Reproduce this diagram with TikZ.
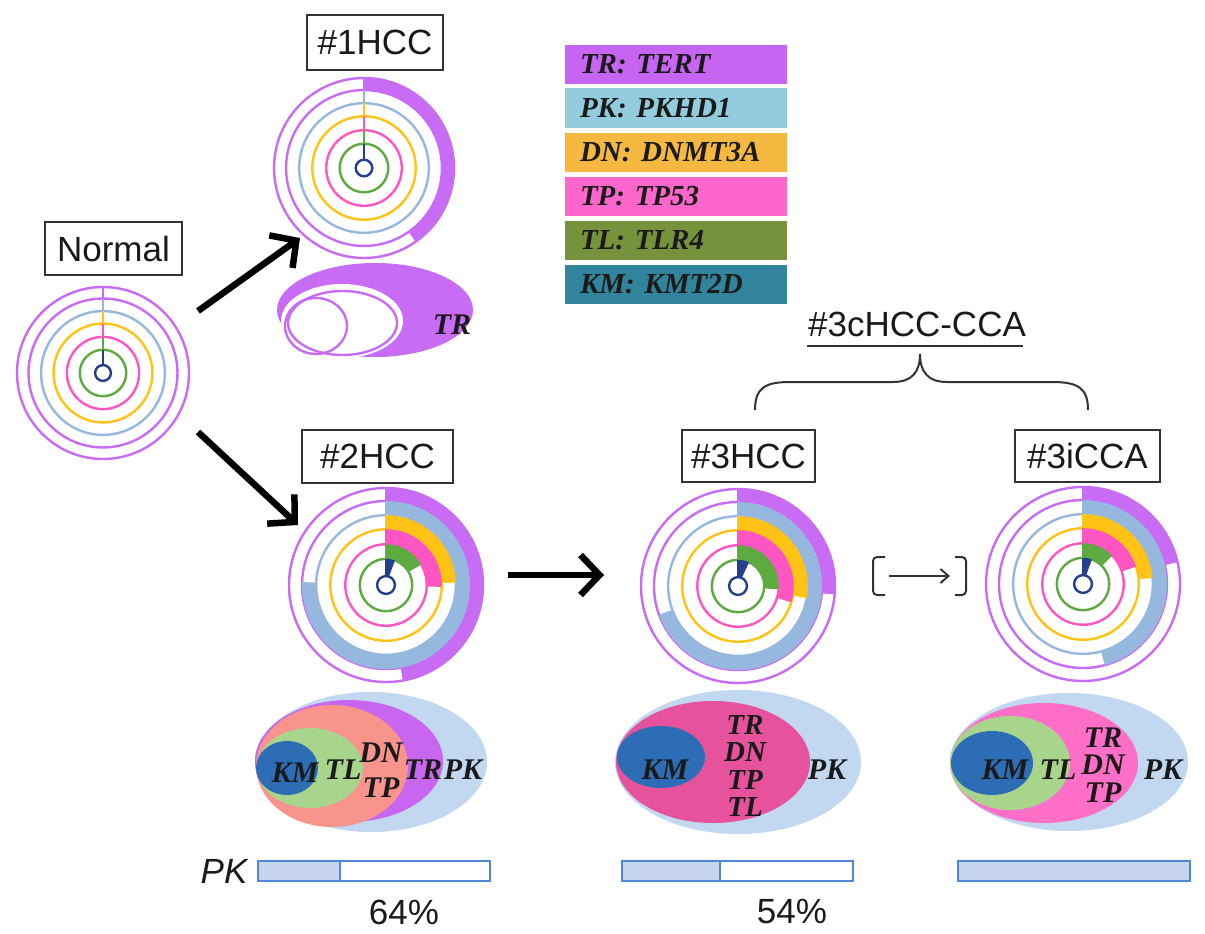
\documentclass[tikz,border=0pt]{standalone}
\usepackage{fontspec}
\setmainfont{Liberation Serif}
\newfontfamily\sansf{Liberation Sans}
\usetikzlibrary{arrows.meta}

\definecolor{trc}{HTML}{C86BF5}
\definecolor{pkc}{HTML}{97B8DE}
\definecolor{dnc}{HTML}{FFC215}
\definecolor{tpc}{HTML}{FF55C3}
\definecolor{tlc}{HTML}{5DAA40}
\definecolor{kmc}{HTML}{233F8E}
\definecolor{lgTR}{HTML}{C565F2}
\definecolor{lgPK}{HTML}{93CDDD}
\definecolor{lgDN}{HTML}{F5B841}
\definecolor{lgTP}{HTML}{FF66CC}
\definecolor{lgTL}{HTML}{76923C}
\definecolor{lgKM}{HTML}{31849B}
\definecolor{vPK}{HTML}{C2D7F0}
\definecolor{vTR}{HTML}{C866F0}
\definecolor{vDN}{HTML}{F8948C}
\definecolor{vTL}{HTML}{A9D48C}
\definecolor{vKM}{HTML}{2D6DB5}
\definecolor{vTPa}{HTML}{E6529C}
\definecolor{vTPb}{HTML}{FF6FC8}
\definecolor{barf}{HTML}{C6D4EE}
\definecolor{barb}{HTML}{4F88D6}
\definecolor{ink}{HTML}{1A1A1A}
\definecolor{boxc}{HTML}{333333}

\newcommand\BandFill[4]{%
  \ifdim #3pt>0pt
    \fill[#4] (90:#1pt) arc[start angle=90, end angle={90-#3}, radius=#1pt]
      -- ({90-#3}:#2pt) arc[start angle={90-#3}, end angle=90, radius=#2pt] -- cycle;
  \fi}

\newcommand\Donut[9]{%
  \begin{scope}[shift={(#1,#2)}]
    \pgfmathsetmacro\rA{#3}
    \pgfmathsetmacro\rB{#3*0.866}
    \pgfmathsetmacro\rC{#3*0.72}
    \pgfmathsetmacro\rD{#3*0.575}
    \pgfmathsetmacro\rE{#3*0.42}
    \pgfmathsetmacro\rF{#3*0.27}
    \pgfmathsetmacro\rG{#3*0.092}
    \draw[ring,trc] (0,0) circle[radius=\rA pt];
    \draw[ring,trc] (0,0) circle[radius=\rB pt];
    \draw[ring,pkc] (0,0) circle[radius=\rC pt];
    \draw[ring,dnc] (0,0) circle[radius=\rD pt];
    \draw[ring,tpc] (0,0) circle[radius=\rE pt];
    \draw[ring,tlc] (0,0) circle[radius=\rF pt];
    \draw[ring,kmc] (0,0) circle[radius=\rG pt];
    \draw[ring,trc] (90:\rA pt) -- (90:\rB pt);
    \draw[ring,pkc] (90:\rB pt) -- (90:\rC pt);
    \draw[ring,dnc] (90:\rC pt) -- (90:\rD pt);
    \draw[ring,tpc] (90:\rD pt) -- (90:\rE pt);
    \draw[ring,tlc] (90:\rE pt) -- (90:\rF pt);
    \draw[ring,kmc] (90:\rF pt) -- (90:\rG pt);
    \BandFill{\rA}{\rB}{#4}{trc}
    \BandFill{\rB}{\rC}{#5}{pkc}
    \BandFill{\rC}{\rD}{#6}{dnc}
    \BandFill{\rD}{\rE}{#7}{tpc}
    \BandFill{\rE}{\rF}{#8}{tlc}
    \BandFill{\rF}{\rG}{#9}{kmc}
  \end{scope}}

\tikzset{
  ring/.style={line width=2.4pt},
  box/.style={draw=boxc, line width=2pt, inner sep=0pt, text=ink, font=\sansf\fontsize{35}{35}\selectfont},
  leg/.style={minimum height=39pt, text width=192pt, align=left, inner xsep=15pt, inner ysep=0pt, text=ink, font=\fontsize{29}{29}\selectfont\bfseries\itshape},
  gl/.style={text=ink, inner sep=0pt, font=\fontsize{30}{27}\selectfont\bfseries\itshape},
  sl/.style={text=ink, inner sep=0pt, font=\sansf\fontsize{35}{35}\selectfont},
  bigarrow/.style={line width=6.5pt, -{Straight Barb[length=19pt,width=40pt]}},
  thinline/.style={line width=2pt, draw=boxc},
  bar/.style={draw=barb, line width=2pt},
}

\begin{document}
\begin{tikzpicture}[x=1pt,y=-1pt]
\useasboundingbox (0,0) rectangle (1205,934);
\fill[white] (0,0) rectangle (1205,934);

% ---------- boxes ----------
\node[box, minimum width=137pt, minimum height=53pt] (bN) at (113.5,248.5) {Normal};
\node[box, minimum width=136pt, minimum height=55pt] (b1) at (375,42.5) {\#1HCC};
\node[box, minimum width=151pt, minimum height=53pt] (b2) at (377.5,456.5) {\#2HCC};
\node[box, minimum width=133pt, minimum height=52pt] (b3) at (748.5,456) {\#3HCC};
\node[box, minimum width=145pt, minimum height=52pt] (b4) at (1087.5,456) {\#3iCCA};

% ---------- donuts ----------
\Donut{103}{373}{86}{0}{0}{0}{0}{0}{0}
\Donut{364}{168}{90}{145}{0}{0}{0}{0}{0}
\Donut{386}{585}{97}{170}{272}{88}{92}{60}{20}
\Donut{738}{586}{97}{95}{250}{100}{107}{95}{25}
\Donut{1083}{584}{97}{77}{165}{85}{72}{46}{20}

% ---------- legend ----------
\node[leg, fill=lgTR] (lTR) at (676,64.5) {TR: TERT};
\node[leg, fill=lgPK] (lPK) at (676,108) {PK: PKHD1};
\node[leg, fill=lgDN] (lDN) at (676,152) {DN: DNMT3A};
\node[leg, fill=lgTP] (lTP) at (676,196) {TP: TP53};
\node[leg, fill=lgTL] (lTL) at (676,240) {TL: TLR4};
\node[leg, fill=lgKM] (lKM) at (676,284) {KM: KMT2D};

% ---------- #1HCC venn ----------
\fill[trc] (375,310) ellipse[x radius=98pt, y radius=47pt];
\fill[white] (342,321) ellipse[x radius=61pt, y radius=37pt];
\draw[trc, line width=2.4pt] (342.5,323) ellipse[x radius=54.5pt, y radius=32pt];
\draw[trc, line width=2.4pt] (316,326) ellipse[x radius=31pt, y radius=28pt];
\node[gl] (v1TR) at (452,325) {TR};

% ---------- #2HCC venn ----------
\fill[vPK] (371,762) ellipse[x radius=116pt, y radius=70pt];
\fill[vTR] (349,761) ellipse[x radius=94pt, y radius=61pt];
\fill[vDN] (332,766) ellipse[x radius=76pt, y radius=61pt];
\fill[vTL] (310,768) ellipse[x radius=53pt, y radius=40pt];
\fill[vKM] (287,768) ellipse[x radius=31pt, y radius=27pt];
\node[gl] (v2KM) at (295,773) {KM};
\node[gl] (v2TL) at (343,770) {TL};
\node[gl, align=center, font=\fontsize{30}{35}\selectfont\bfseries\itshape] (v2DT) at (381,770.5) {DN\\TP};
\node[gl] (v2TR) at (423,770) {TR};
\node[gl] (v2PK) at (463,770) {PK};

% ---------- #3HCC venn ----------
\fill[vPK] (738,762) ellipse[x radius=123pt, y radius=72pt];
\fill[vTPa] (713,762) ellipse[x radius=97pt, y radius=61pt];
\fill[vKM] (661,757) ellipse[x radius=44pt, y radius=31pt];
\node[gl] (v3KM) at (665,770) {KM};
\node[gl, align=center, font=\fontsize{29}{27.5}\selectfont\bfseries\itshape] (v3S) at (745,766) {TR\\DN\\TP\\TL};
\node[gl] (v3PK) at (827,770) {PK};

% ---------- #3iCCA venn ----------
\fill[vPK] (1069,762) ellipse[x radius=119pt, y radius=69pt];
\fill[vTPb] (1044,763) ellipse[x radius=94pt, y radius=60pt];
\fill[vTL] (1010,763) ellipse[x radius=60pt, y radius=47pt];
\fill[vKM] (992,763) ellipse[x radius=41pt, y radius=32pt];
\node[gl] (v4KM) at (1005,770) {KM};
\node[gl] (v4TL) at (1058,770) {TL};
\node[gl, align=center, font=\fontsize{30}{27.5}\selectfont\bfseries\itshape] (v4S) at (1103,765) {TR\\DN\\TP};
\node[gl] (v4PK) at (1163,770) {PK};

% ---------- arrows ----------
\coordinate (a1s) at (198,311);
\coordinate (a1e) at (300,238);
\coordinate (a2s) at (198,432);
\coordinate (a2e) at (298,525);
\coordinate (a3s) at (508,575);
\coordinate (a3e) at (604,575);
\draw[bigarrow] (a1s) -- (a1e);
\draw[bigarrow] (a2s) -- (a2e);
\draw[bigarrow] (a3s) -- (a3e);

% bracketed arrow
\draw[thinline, rounded corners=4pt] (885,557) -- (873,557) -- (873,595) -- (885,595);
\draw[thinline, rounded corners=4pt] (955,557) -- (966,557) -- (966,595) -- (955,595);
\coordinate (a4s) at (889,576);
\coordinate (a4e) at (950,576);
\draw[thinline, -{Straight Barb[length=8pt,width=14pt]}] (a4s) -- (a4e);

% ---------- #3cHCC-CCA brace ----------
\node[sl] (lc) at (917,324) {\#3cHCC-CCA};
\draw[line width=2.5pt, draw=boxc] (807,346) -- (1023,346);
\draw[thinline] (755,410) .. controls (755,388) and (765,382) .. (790,382) -- (893,382)
  .. controls (912,382) and (920,372) .. (920,354)
  .. controls (920,372) and (928,382) .. (947,382) -- (1052,382)
  .. controls (1078,382) and (1088,388) .. (1088,410);

% ---------- PK bars ----------
\node[text=ink, inner sep=0pt, font=\sansf\itshape\fontsize{35}{35}\selectfont] (pk) at (224,871) {PK};
\fill[barf] (258,861) rectangle (340,881);
\draw[bar] (258,861) rectangle (490,881);
\draw[bar] (340,861) -- (340,881);
\node[sl] (p64) at (404,912) {64\%};
\fill[barf] (622,861) rectangle (720,881);
\draw[bar] (622,861) rectangle (853,881);
\draw[bar] (720,861) -- (720,881);
\node[sl] (p54) at (792,912) {54\%};
\fill[barf] (958,861) rectangle (1190,881);
\draw[bar] (958,861) rectangle (1190,881);
\end{tikzpicture}
\end{document}
